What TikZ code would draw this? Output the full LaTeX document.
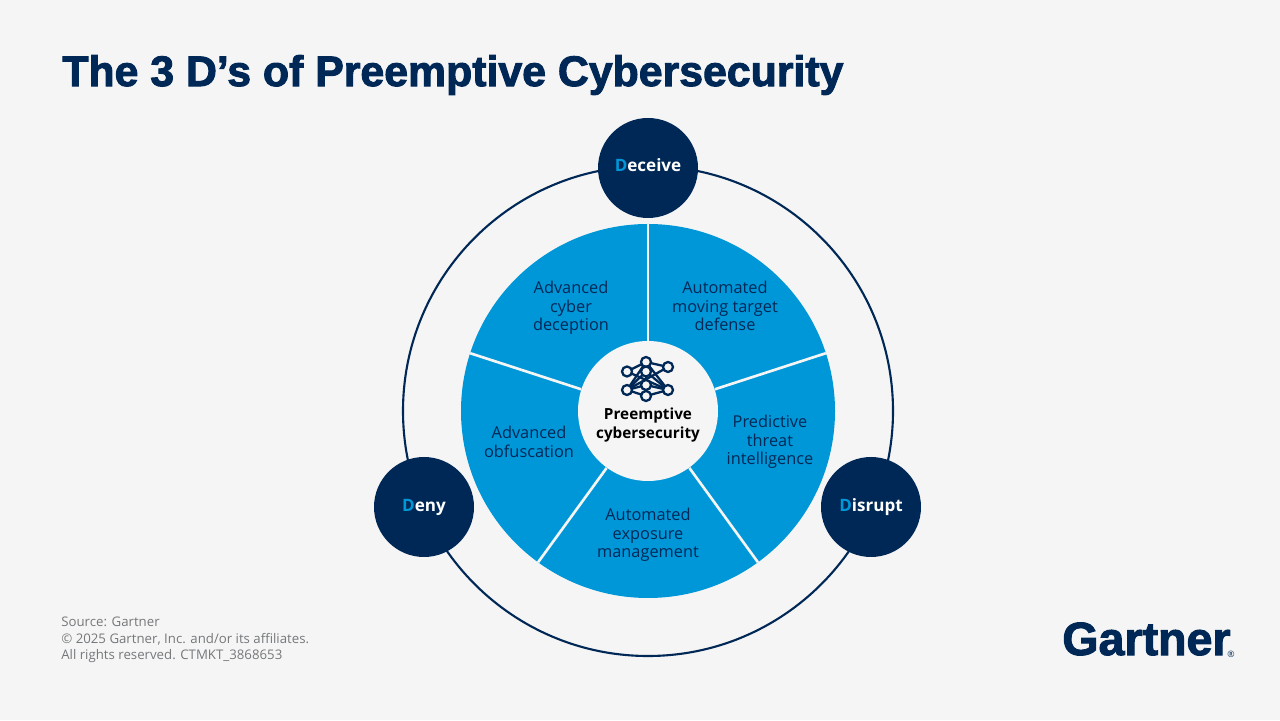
\documentclass[tikz,border=0pt]{standalone}
\usepackage{fontspec}
\setmainfont{Liberation Sans}
\newfontfamily\titlefont[FakeBold=2.2]{Liberation Sans}
\newfontfamily\bodyfont{Open Sans}
\usetikzlibrary{positioning,calc}

\definecolor{navyColor}{HTML}{002856}
\definecolor{bluColor}{HTML}{0097D8}
\definecolor{paperColor}{HTML}{F5F5F5}
\definecolor{greyColor}{HTML}{75787B}

\begin{document}
\begin{tikzpicture}[
    % Define the looks locally
    dBox/.style={circle, fill=navyColor, minimum size=2cm, inner sep=0pt, text=white, font=\bodyfont\fontsize{9.7}{11}\selectfont\bfseries},
    sliceText/.style={align=center, text=navyColor, inner sep=0pt, font=\bodyfont\fontsize{9.3}{10.65}\selectfont},
    iconDot/.style={circle, draw=navyColor, fill=paperColor, line width=1.3pt, minimum size=0.2cm, inner sep=0pt},
    iconLine/.style={navyColor, line width=1.3pt}
]

    % --- PAGE ---
    \useasboundingbox (0,0) rectangle (25.6,14.4);
    \fill[paperColor] (0,0) rectangle (25.6,14.4);

    % --- TITLE ---
    \node[anchor=west, inner sep=0pt, text=navyColor, font=\titlefont\fontsize{24.36}{28}\selectfont\bfseries] (title) at (1.24,12.9) {The 3 D’s of Preemptive Cybersecurity};

    % --- OUTER RING ---
    \coordinate (centre) at (12.96,6.18);
    \draw[navyColor, line width=1.2pt] (centre) circle (4.9);

    % --- WHEEL ---
    \fill[bluColor] (centre) circle (3.74);
    \node[circle, fill=paperColor, minimum size=2.8cm, inner sep=0pt] (hub) at (centre) {};
    \foreach \ang/\name in {90/a, 18/b, -54/c, -126/d, 162/e} {
        \coordinate (rim\name) at ($(centre)+(\ang:3.74)$);
        \draw[paperColor, line width=1.5pt] (hub.\ang) -- (rim\name);
    }

    % --- SLICE LABELS ---
    \node[sliceText] (cyberDeception) at (11.42,8.24) {Advanced\\cyber\\deception};
    \node[sliceText] (movingTarget) at (14.5,8.28) {Automated\\moving target\\defense};
    \node[sliceText] (threatIntel) at (15.4,5.56) {Predictive\\threat\\intelligence};
    \node[sliceText] (exposureMgmt) at (12.96,3.70) {Automated\\exposure\\management};
    \node[sliceText] (obfuscation) at (10.58,5.56) {Advanced\\obfuscation};

    % --- HUB ICON ---
    \coordinate (icTop) at (12.92,7.16);
    \coordinate (icUL) at (12.54,6.97);
    \coordinate (icUR) at (13.36,7.06);
    \coordinate (icMU) at (12.92,6.97);
    \coordinate (icMid) at (12.92,6.70);
    \coordinate (icLL) at (12.54,6.60);
    \coordinate (icLR) at (13.36,6.60);
    \coordinate (icBot) at (12.92,6.48);
    \foreach \p/\q in {icTop/icUL, icTop/icUR, icTop/icMU, icTop/icLL, icTop/icLR, icUL/icLR, icUR/icLL, icMU/icMid, icMU/icLL, icMU/icLR, icMid/icLL, icMid/icLR, icMid/icBot, icLL/icBot, icLR/icBot} {
        \draw[iconLine] (\p) -- (\q);
    }
    \foreach \p in {icTop, icUL, icUR, icMU, icMid, icLL, icLR, icBot} {
        \node[iconDot] (dot\p) at (\p) {};
    }
    \node[align=center, inner sep=0pt, text=black, font=\bodyfont\fontsize{8.7}{10.65}\selectfont\bfseries] (hubLabel) at (12.96,5.90) {Preemptive\\cybersecurity};

    % --- THE THREE D'S ---
    \node[dBox] (deceive) at (12.96,11.04) {\raisebox{0.12cm}{\textcolor{bluColor}{D}eceive}};
    \node[dBox] (deny) at (8.48,4.26) {\textcolor{bluColor}{D}eny};
    \node[dBox] (disrupt) at (17.42,4.26) {\textcolor{bluColor}{D}isrupt};

    % --- SOURCE NOTE ---
    \node[anchor=north west, align=left, inner sep=0pt, text=greyColor, font=\bodyfont\fontsize{7.53}{9.4}\selectfont] (source) at (1.22,2.06) {Source: Gartner\\© 2025 Gartner, Inc. and/or its affiliates.\\All rights reserved. CTMKT\_3868653};

    % --- LOGO ---
    \node[anchor=west, inner sep=0pt, text=navyColor, font=\titlefont\fontsize{26.5}{30}\selectfont\bfseries] (logo) at (21.24,1.62) {Gartner};
    \node[anchor=east, inner sep=0pt, text=navyColor, font=\bodyfont\fontsize{5}{5}\selectfont] (logoMark) at (24.7,1.32) {®};

\end{tikzpicture}
\end{document}
